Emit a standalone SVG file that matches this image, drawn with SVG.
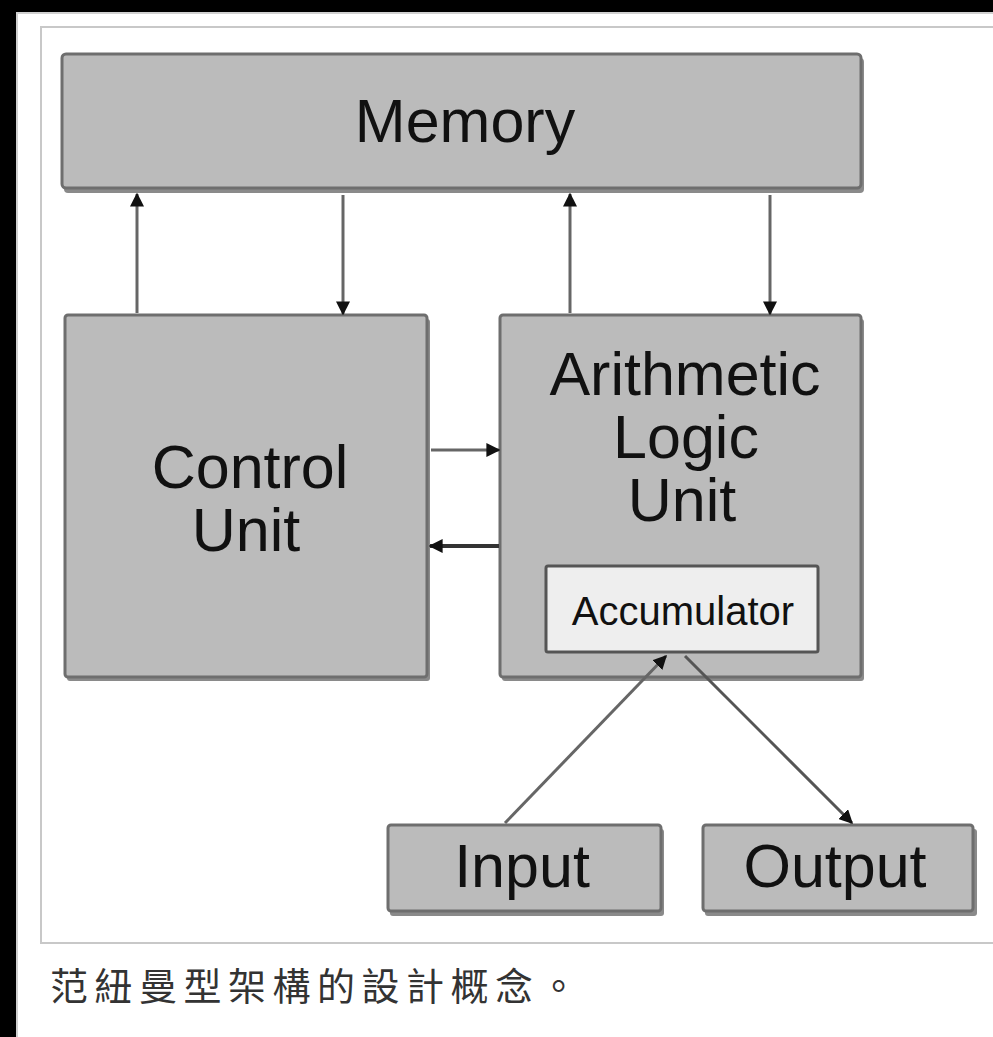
<svg xmlns="http://www.w3.org/2000/svg" width="993" height="1037" viewBox="0 0 993 1037">
<defs>
<style>
.box{fill:#bbbbbb;stroke:#6e6e6e;stroke-width:3}
.shadow{fill:#8a8a8a}
.acc{fill:#eeeeee;stroke:#555555;stroke-width:3}
.lbl{font-family:"Liberation Sans",Arial,sans-serif;fill:#111;text-anchor:middle}
.big{font-size:61px}
.small{font-size:40px}
.conn{stroke:#666666;stroke-width:3;fill:none}
</style>
<marker id="ah" viewBox="0 0 10 10" refX="9" refY="5" markerWidth="14" markerHeight="14" markerUnits="userSpaceOnUse" orient="auto">
<path d="M0,0 L10,5 L0,10 Z" fill="#111"/>
</marker>
</defs>
<rect x="0" y="0" width="993" height="1037" fill="#000"/>
<rect x="17" y="13" width="980" height="1030" fill="#fff" stroke="#d0d0d0" stroke-width="2"/>
<rect x="41" y="27" width="960" height="916" fill="#fff" stroke="#c8c8c8" stroke-width="2"/>

<g id="memory">
<rect class="shadow" x="64" y="58" width="800" height="135" rx="4"/>
<rect class="box" x="62" y="54" width="799" height="134" rx="4"/>
<text class="lbl big" x="465" y="142">Memory</text>
</g>
<g id="control-unit">
<rect class="shadow" x="67" y="319" width="363" height="362" rx="3"/>
<rect class="box" x="65" y="315" width="362" height="362" rx="3"/>
<text class="lbl big" x="250" y="488">Control</text>
<text class="lbl big" x="246" y="551">Unit</text>
</g>
<g id="alu">
<rect class="shadow" x="502" y="319" width="362" height="362" rx="3"/>
<rect class="box" x="500" y="315" width="361" height="362" rx="3"/>
<text class="lbl big" x="685" y="395">Arithmetic</text>
<text class="lbl big" x="686" y="458">Logic</text>
<text class="lbl big" x="682" y="521">Unit</text>
</g>
<g id="accumulator">
<rect class="acc" x="546" y="566" width="272" height="86" rx="2"/>
<text class="lbl small" x="683" y="625">Accumulator</text>
</g>
<g id="input">
<rect class="shadow" x="390" y="829" width="274" height="87" rx="3"/>
<rect class="box" x="388" y="825" width="273" height="86" rx="3"/>
<text class="lbl big" x="522" y="887">Input</text>
</g>
<g id="output">
<rect class="shadow" x="705" y="829" width="272" height="87" rx="3"/>
<rect class="box" x="703" y="825" width="270" height="86" rx="3"/>
<text class="lbl big" x="835" y="887">Output</text>
</g>

<g id="connectors">
<line class="conn" x1="137" y1="313" x2="137" y2="194" marker-end="url(#ah)"/>
<line class="conn" x1="343" y1="195" x2="343" y2="314" marker-end="url(#ah)"/>
<line class="conn" x1="570" y1="313" x2="570" y2="194" marker-end="url(#ah)"/>
<line class="conn" x1="770" y1="195" x2="770" y2="314" marker-end="url(#ah)"/>
<line class="conn" x1="431" y1="450" x2="499" y2="450" marker-end="url(#ah)"/>
<line class="conn" x1="499" y1="546" x2="430" y2="546" marker-end="url(#ah)" style="stroke:#333;stroke-width:4"/>
<line class="conn" x1="505" y1="823" x2="666" y2="656" marker-end="url(#ah)"/>
<line class="conn" x1="685" y1="656" x2="852" y2="823" marker-end="url(#ah)" style="stroke:#555"/>
</g>

<text x="50" y="1000" font-family="'Noto Sans CJK TC','Noto Sans CJK SC',sans-serif" font-size="38" letter-spacing="6.5" fill="#333">范紐曼型架構的設計概念。</text>
</svg>
